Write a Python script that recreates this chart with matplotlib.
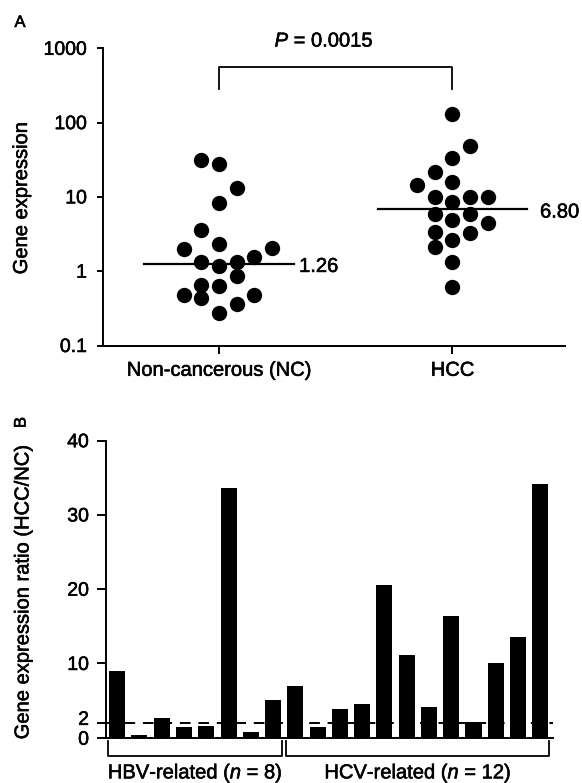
import matplotlib
matplotlib.use("Agg")
import matplotlib.pyplot as plt
import matplotlib.patheffects as pe
import matplotlib.transforms as mtransforms
import numpy as np

plt.rcParams['font.family'] = ['Liberation Sans', 'DejaVu Sans']
plt.rcParams['mathtext.fontset'] = 'custom'
plt.rcParams['mathtext.rm'] = 'Liberation Sans'
plt.rcParams['mathtext.it'] = 'Liberation Sans:italic'

# ---------------- Data ----------------
# Panel A: gene expression (log scale), NC vs HCC
groups_a = ["Non-cancerous (NC)", "HCC"]
nc_values = [31.6, 27.3, 13.1, 8.36, 3.55, 2.35, 1.96, 2.08, 1.31, 1.17,
             1.31, 1.53, 0.857, 0.649, 0.635, 0.476, 0.430, 0.476, 0.361, 0.275]
nc_slots = [-1, 0, 1, 0, -1, 0, -2, 3, -1, 0, 1, 2, 1, -1, 0, -2, -1, 2, 1, 0]
hcc_values = [131, 48.1, 33.2, 21.5, 15.8, 14.3, 9.94, 8.51, 9.94, 9.94,
              5.95, 4.94, 5.95, 4.45, 3.37, 3.27, 2.61, 2.12, 1.33, 0.616]
hcc_slots = [0, 1, 0, -1, 0, -2, -1, 0, 1, 2, -1, 0, 1, 2, -1, 1, 0, -1, 0, 0]
medians = [1.26, 6.80]
median_labels = ["1.26", "6.80"]
p_text = "$P$ = 0.0015"
yticks_a = [0.1, 1, 10, 100, 1000]
yticklabels_a = ["0.1", "1", "10", "100", "1000"]

# Panel B: gene expression ratio HCC/NC per patient
ratios = [9.0, 0.3, 2.6, 1.5, 1.6, 33.6, 0.8, 5.1,
          7.0, 1.4, 3.8, 4.6, 20.6, 11.1, 4.1, 16.4, 2.1, 10.0, 13.5, 34.2]
group_names = ["HBV-related ($n$ = 8)", "HCV-related ($n$ = 12)"]
group_sizes = [8, 12]
threshold = 2
yticks_b = [0, 2, 10, 20, 30, 40]

# ---------------- Figure ----------------
W, H = 582, 783
fig = plt.figure(figsize=(W / 100, H / 100), dpi=100)
fs = 14.5
tfs = 14
lw = 1.4

def px_axes(l, r, t, b):
    return fig.add_axes([l / W, 1 - b / H, (r - l) / W, (b - t) / H])

# ---------- Panel A ----------
axA = px_axes(103, 565, 48.3, 345.5)
axA.set_yscale('log')
axA.set_ylim(0.1, 1000)
axA.set_xlim(-0.497, 1.482)
step = 0.0758
for gi, (vals, slots) in enumerate([(nc_values, nc_slots), (hcc_values, hcc_slots)]):
    xs = gi + np.array(slots) * step
    axA.scatter(xs, vals, s=122, color='black', zorder=3, linewidths=0)
    axA.plot([gi - 0.321, gi + 0.321], [medians[gi], medians[gi]], color='black', lw=1.6, zorder=2)

axA.text(0.343, medians[0] * 0.92, median_labels[0], fontsize=fs, va='center', ha='left')
axA.text(1.375, medians[1] * 0.92, median_labels[1], fontsize=fs, va='center', ha='left')

# significance bracket
axA.plot([0, 0, 1, 1], [283, 560, 560, 283], color='black', lw=1.3, clip_on=False)
axA.text(0.45, 1250, p_text, fontsize=fs, ha='center', va='center', clip_on=False)

axA.set_xticks([0, 1])
axA.set_xticklabels(groups_a, fontsize=fs)
axA.set_yticks(yticks_a)
axA.set_yticklabels(yticklabels_a, fontsize=tfs)
axA.yaxis.set_minor_locator(matplotlib.ticker.NullLocator())
axA.tick_params(axis='y', length=4.5, width=lw, pad=7)
axA.tick_params(axis='x', length=6, width=lw, pad=5)
for s in ['top', 'right']:
    axA.spines[s].set_visible(False)
for s in ['left', 'bottom']:
    axA.spines[s].set_linewidth(lw)

# ---------- Panel B ----------
axB = px_axes(105.7, 553, 440.7, 737.7)
axB.set_ylim(0, 40)
axB.set_xlim(-0.516, 19.57)
idx = np.arange(len(ratios))
axB.bar(idx, ratios, width=0.72, color='black', zorder=2)
axB.plot([-0.516, 19.57], [threshold, threshold], color='black', lw=1.4,
         dashes=(5.5, 4), zorder=1)
axB.set_xticks([])
axB.set_yticks(yticks_b)
# the two crowded labels (0 and 2) are drawn separately, nudged apart a little
axB.set_yticklabels(['' if t in (0, 2) else str(t) for t in yticks_b], fontsize=tfs)
axB.tick_params(axis='y', length=6.5, width=lw, pad=5.5)
for s in ['top', 'right']:
    axB.spines[s].set_visible(False)
for s in ['left', 'bottom']:
    axB.spines[s].set_linewidth(lw)

blend = mtransforms.blended_transform_factory(axB.transAxes, axB.transData)
lab_x = -(6.5 + 5.5) / 72 * 100 / 447.3
for t, dy in [(2, 2.5), (0, -2.5)]:
    tr = blend + mtransforms.ScaledTranslation(0, dy / 100, fig.dpi_scale_trans)
    axB.text(lab_x, t, str(t), transform=tr, fontsize=tfs, ha='right', va='center', clip_on=False)

start = 0
for name, n in zip(group_names, group_sizes):
    x0 = start - 0.41
    x1 = start + n - 1 + 0.38
    axB.plot([x0, x0, x1, x1], [-0.5, -2.45, -2.45, -0.5], color='black', lw=1.3, clip_on=False)
    axB.text((start + start + n - 1) / 2, -4.75, name, fontsize=fs, ha='center', va='center', clip_on=False)
    start += n

# ---------- Labels ----------
fig.text(21.5 / W, 1 - 198 / H, "Gene expression", rotation=90, fontsize=fs, ha='center', va='center')
fig.text(23 / W, 1 - 592 / H, "Gene expression ratio (HCC/NC)", rotation=90, fontsize=fs, ha='center', va='center')
fig.text(20 / W, 1 - 22.5 / H, "A", fontsize=12, ha='center', va='center')
fig.text(21 / W, 1 - 422.5 / H, "B", rotation=90, fontsize=12, ha='center', va='center')

# slightly heavier text, like the printed original
for t in fig.findobj(matplotlib.text.Text):
    t.set_path_effects([pe.withStroke(linewidth=0.4, foreground='black')])

fig.savefig("out.png", dpi=100)
